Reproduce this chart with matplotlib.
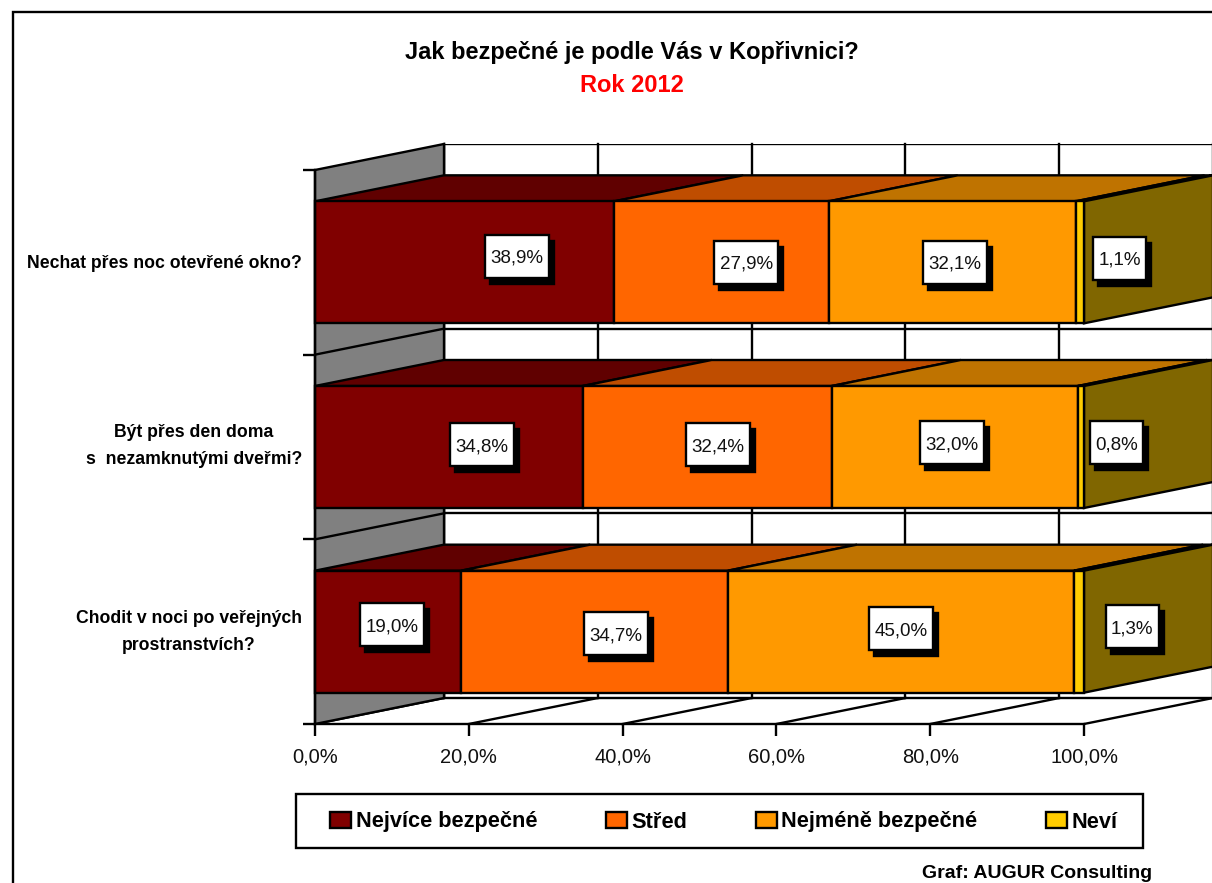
import matplotlib
matplotlib.use('Agg')
import matplotlib.pyplot as plt
from matplotlib.patches import Polygon, Rectangle, Patch

plt.rcParams['font.family'] = ['Liberation Sans', 'DejaVu Sans']

# data, first row is the top bar
otazky = ['Nechat přes noc otevřené okno?',
          'Být přes den doma\ns  nezamknutými dveřmi?',
          'Chodit v noci po veřejných\nprostranstvích?']
skupiny = ['Nejvíce bezpečné', 'Střed', 'Nejméně bezpečné', 'Neví']
hodnoty = [[38.9, 27.9, 32.1, 1.1],
           [34.8, 32.4, 32.0, 0.8],
           [19.0, 34.7, 45.0, 1.3]]
x_ticks = [0, 20, 40, 60, 80, 100]

barvy = ['#800000', '#FF6600', '#FF9900', '#FFCC00']
barvy_top = ['#600000', '#BF4D00', '#BF7300', '#BF7300']
barva_bok = '#806600'

# label centres, pixels from the middle of the segment (hand moved in the original)
posuny = [[(52, 6), (25, 0), (3, 0), (40, 4)],
          [(33, 2), (10.5, 2), (-2.5, 4), (36, 4)],
          [(4, 7), (21.5, -2), (0, 3), (53, 5)]]

W, H = 1212, 883
fig = plt.figure(figsize=(W / 100, H / 100), dpi=100)
ax = fig.add_axes([315 / W, (H - 724) / H, (W - 315) / W, (724 - 144) / H])
px_x = 7.69    # pixels for 1 %
px_y = 184.67  # pixels for one category
ax.set_xlim(0, (W - 315) / px_x)
ax.set_ylim(0, (724 - 144) / px_y)

DX = 129 / px_x
DY = 26 / px_y
lw = 1.7
xmax = ax.get_xlim()[1]


def poly(body, fc, z):
    ax.add_patch(Polygon(body, closed=True, fc=fc, ec='black', lw=lw, zorder=z,
                         joinstyle='miter', clip_on=False))


# back wall, side wall, floor
ax.add_patch(Rectangle((DX, DY), xmax, 3, fc='white', ec='black', lw=lw, zorder=1))
poly([(0, 0), (DX, DY), (DX, 3 + DY), (0, 3)], '#808080', 1.2)
for t in x_ticks:
    ax.plot([t + DX, t + DX], [DY, 3 + DY], color='black', lw=lw, zorder=1.1, clip_on=False)
    ax.plot([t, t + DX], [0, DY], color='black', lw=lw, zorder=1.1, clip_on=False)
for c in [1, 2]:
    ax.plot([DX, xmax], [c + DY, c + DY], color='black', lw=lw, zorder=1.1)
    ax.plot([0, DX], [c, c + DY], color='black', lw=lw, zorder=1.3)

# bars
half = 61 / px_y
for i, radek in enumerate(hodnoty):
    yc = 2.5 - i
    y0, y1 = yc - half, yc + half
    left = 0
    for j, v in enumerate(radek):
        poly([(left, y1), (left + DX, y1 + DY), (left + v + DX, y1 + DY), (left + v, y1)],
             barvy_top[j], 2)
        poly([(left, y0), (left + v, y0), (left + v, y1), (left, y1)], barvy[j], 2.2)

        # label box with its shadow
        bx = left + v / 2 + posuny[i][j][0] / px_x
        by = yc + posuny[i][j][1] / px_y
        bw = (64 if v >= 10 else 53) / px_x
        bh = 43 / px_y
        ax.add_patch(Rectangle((bx - bw / 2 + 5 / px_x, by - bh / 2 - 6 / px_y), bw, bh,
                               fc='black', ec='black', lw=lw, zorder=4, clip_on=False))
        ax.add_patch(Rectangle((bx - bw / 2, by - bh / 2), bw, bh,
                               fc='white', ec='black', lw=lw, zorder=5, clip_on=False))
        ax.text(bx, by, f'{v:.1f}%'.replace('.', ','), ha='center', va='center_baseline',
                fontsize=13.5, color='#111111', zorder=6)
        left += v
    poly([(100, y0), (100 + DX, y0 + DY), (100 + DX, y1 + DY), (100, y1)], barva_bok, 2.1)

# axes
for s in ['top', 'right']:
    ax.spines[s].set_visible(False)
ax.spines['left'].set_bounds(0, 3)
ax.spines['bottom'].set_bounds(0, 100)
ax.spines['left'].set_linewidth(lw)
ax.spines['bottom'].set_linewidth(lw)
ax.patch.set_visible(False)
ax.set_xticks(x_ticks)
ax.set_xticklabels([f'{t},0%' for t in x_ticks], fontsize=14.5, color='#111111')
ax.set_yticks([0, 1, 2, 3])
ax.set_yticklabels([])
ax.tick_params(length=8.6, width=lw, pad=8)

# category labels
for y, q in zip([264, 446, 632], otazky):
    fig.text(302 / W, 1 - y / H, q, ha='right', va='center', ma='center',
             fontsize=12.7, fontweight='bold', linespacing=1.7)

# titles
fig.text(632 / W, 1 - 53 / H, 'Jak bezpečné je podle Vás v Kopřivnici?', ha='center', va='center',
         fontsize=17, fontweight='bold')
fig.text(632 / W, 1 - 86 / H, 'Rok 2012', ha='center', va='center',
         fontsize=17, fontweight='bold', color='red')
fig.text(1152 / W, 1 - 873 / H, 'Graf: AUGUR Consulting', ha='right', va='center',
         fontsize=14, fontweight='bold')

# legend, its frame is drawn apart because the padding differs in x and y
fig.add_artist(Rectangle((296 / W, 1 - 848 / H), 847 / W, 54 / H, transform=fig.transFigure,
                         fc='white', ec='black', lw=lw))
handles = [Patch(fc=b, ec='black', lw=lw) for b in barvy]
leg = fig.legend(handles, skupiny, ncol=4, loc='center',
                 bbox_to_anchor=(724 / W, 1 - 822 / H), frameon=False,
                 prop=dict(weight='bold', size=15.7),
                 handlelength=0.96, handleheight=0.78, handletextpad=0.2, columnspacing=3.16,
                 borderpad=0, borderaxespad=0)
leg.set_zorder(5)

# outer frame of the chart area, runs off the picture on the right and at the bottom
fig.add_artist(Rectangle((13 / W, -0.1), 1.2, 1.1 - 12 / H, transform=fig.transFigure,
                         fc='none', ec='black', lw=lw))

fig.savefig('out.png', dpi=100)
